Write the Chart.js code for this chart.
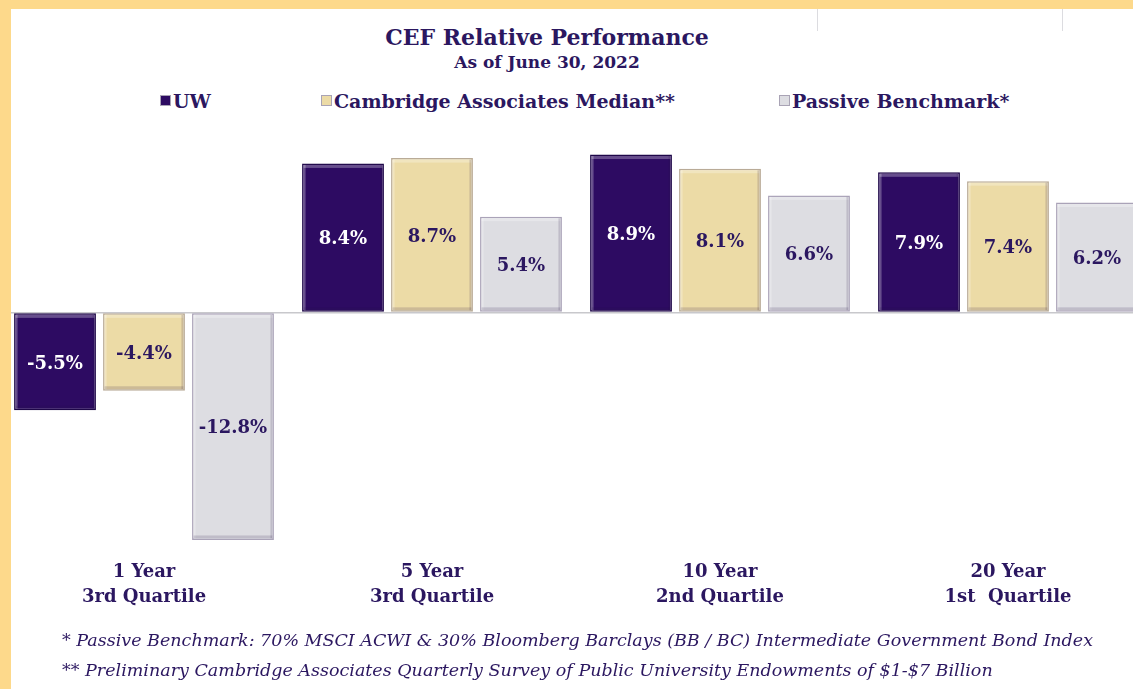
<!DOCTYPE html>
<html>
<head>
<meta charset="utf-8">
<title>CEF Relative Performance</title>
<script src="https://cdn.jsdelivr.net/npm/chart.js@4.4.0/dist/chart.umd.min.js"></script>
<style>
  html, body { margin: 0; padding: 0; }
  body {
    width: 1133px; height: 689px; overflow: hidden; position: relative;
    background: #ffffff; font-family: "DejaVu Serif", serif; color: #2b1760;
  }
  .frame-top { position: absolute; left: 0; top: 0; width: 1133px; height: 9px; background: #fdd98b; z-index: 5; }
  .frame-left { position: absolute; left: 0; top: 0; width: 11px; height: 689px; background: #fdd98b; z-index: 5; }
  .frame-mark { position: absolute; top: 9px; width: 1px; height: 22px; background: #dcdce0; }
  #chartBox { position: absolute; left: 0; top: 0; width: 1152px; height: 689px; }
  .title { position: absolute; left: 0; width: 1094px; text-align: center; font-weight: bold; white-space: nowrap; }
  .legend-item { position: absolute; top: 90px; font-weight: bold; font-size: 19px; line-height: 22px; white-space: nowrap; }
  .legend-box { display: inline-block; width: 9px; height: 9px; margin-right: 2px; vertical-align: 2px; border: 1px solid #a9a3b5; }
  .note { position: absolute; left: 62px; font-style: italic; font-size: 17.5px; line-height: 22px; white-space: nowrap; }
</style>
</head>
<body>
<div class="frame-top"></div>
<div class="frame-left"></div>
<div class="frame-mark" style="left:817px"></div>
<div class="frame-mark" style="left:1062px"></div>

<div class="title" style="top:23px; font-size:22px; line-height:28px;">CEF Relative Performance</div>
<div class="title" style="top:50px; font-size:17px; line-height:24px;">As of June 30, 2022</div>

<div id="legend"></div>

<div id="chartBox"><canvas id="cefChart"></canvas></div>

<div class="note" style="top:629px;">* Passive Benchmark: 70% MSCI ACWI &amp; 30% Bloomberg Barclays (BB / BC) Intermediate Government Bond Index</div>
<div class="note" style="top:659px;">** Preliminary Cambridge Associates Quarterly Survey of Public University Endowments of $1-$7 Billion</div>

<script>
// Chart data
const categories = [
  ["1 Year", "3rd Quartile"],
  ["5 Year", "3rd Quartile"],
  ["10 Year", "2nd Quartile"],
  ["20 Year", "1st  Quartile"],
];
const seriesNames = ["UW", "Cambridge Associates Median**", "Passive Benchmark*"];
const uwValues = [-5.5, 8.4, 8.9, 7.9];
const cambridgeValues = [-4.4, 8.7, 8.1, 7.4];
const passiveValues = [-12.8, 5.4, 6.6, 6.2];

const textColor = "#2b1760";
const fillColors = ["#2d0b62", "#ecdba6", "#dddde2"];
const edgeColors = ["#1e0748", "#b9ab97", "#aaa3b8"];
const legendLeft = [160, 321, 779];

// Light top edge and darker bottom edge, like the bevelled bars of the original
const barBevel = {
  id: "barBevel",
  afterDatasetsDraw(chart) {
    const ctx = chart.ctx;
    ctx.save();
    chart.data.datasets.forEach((ds, i) => {
      chart.getDatasetMeta(i).data.forEach((bar) => {
        const top = Math.min(bar.y, bar.base);
        const bottom = Math.max(bar.y, bar.base);
        const left = bar.x - bar.width / 2;
        ctx.fillStyle = "rgba(255,255,255,0.28)";
        ctx.fillRect(left + 1.5, top + 1.5, bar.width - 3, 3);
        ctx.fillRect(left + 1.5, top + 1.5, 2, bottom - top - 3);
        ctx.fillStyle = "rgba(40,20,70,0.16)";
        ctx.fillRect(left + 1.5, bottom - 4.5, bar.width - 3, 3);
        ctx.fillRect(left + bar.width - 3.5, top + 1.5, 2, bottom - top - 3);
      });
    });
    ctx.restore();
  },
};

// Percentage labels centred inside each bar
const valueLabels = {
  id: "valueLabels",
  afterDatasetsDraw(chart) {
    const ctx = chart.ctx;
    ctx.save();
    ctx.font = "bold 18px 'DejaVu Serif'";
    ctx.textAlign = "center";
    ctx.textBaseline = "middle";
    chart.data.datasets.forEach((ds, i) => {
      const meta = chart.getDatasetMeta(i);
      meta.data.forEach((bar, j) => {
        ctx.fillStyle = i === 0 ? "#ffffff" : textColor;
        ctx.fillText(ds.data[j].toFixed(1) + "%", bar.x, (bar.y + bar.base) / 2 + 2);
      });
    });
    ctx.restore();
  },
};

const chart = new Chart(document.getElementById("cefChart"), {
  type: "bar",
  data: {
    labels: categories,
    datasets: [uwValues, cambridgeValues, passiveValues].map((values, i) => ({
      label: seriesNames[i],
      data: values,
      backgroundColor: fillColors[i],
      borderColor: edgeColors[i],
      borderWidth: 1.5,
      borderSkipped: false,
      categoryPercentage: 0.927,
      barPercentage: 0.92,
    })),
  },
  options: {
    responsive: true,
    maintainAspectRatio: false,
    animation: false,
    layout: { padding: { top: 135, bottom: 72, left: 0, right: 0 } },
    plugins: {
      legend: { display: false },
      tooltip: { enabled: false },
    },
    scales: {
      x: {
        grid: { display: false, drawTicks: false },
        border: { display: false },
        ticks: {
          padding: 8,
          maxRotation: 0,
          color: textColor,
          font: { family: "DejaVu Serif", weight: "bold", size: 18, lineHeight: 1.35 },
        },
      },
      y: {
        min: -13.5,
        max: 10,
        afterFit: (scale) => { scale.width = 0; },
        afterBuildTicks: (scale) => { scale.ticks = [{ value: 0 }]; },
        ticks: { display: false },
        border: { display: false },
        grid: { color: "#c8c8cc", lineWidth: 1.5, drawTicks: false },
      },
    },
  },
  plugins: [barBevel, valueLabels],
});

// Legend built from the chart's datasets
const legend = document.getElementById("legend");
chart.data.datasets.forEach((ds, i) => {
  const item = document.createElement("div");
  item.className = "legend-item";
  item.style.left = legendLeft[i] + "px";
  const box = document.createElement("span");
  box.className = "legend-box";
  box.style.background = ds.backgroundColor;
  item.appendChild(box);
  item.appendChild(document.createTextNode(ds.label));
  legend.appendChild(item);
});
</script>
</body>
</html>
